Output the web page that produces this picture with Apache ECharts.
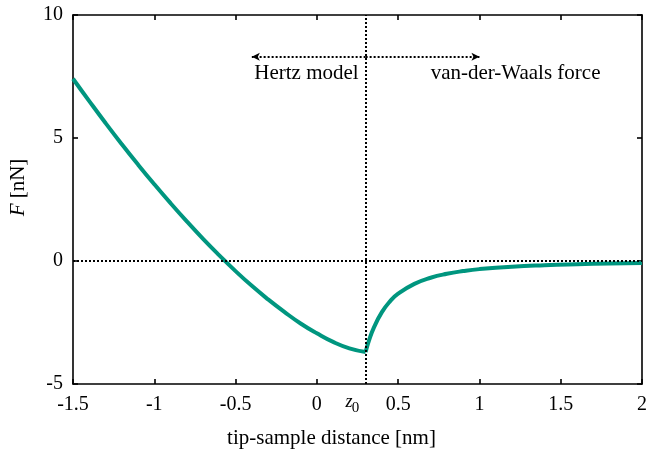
<!DOCTYPE html>
<html>
<head>
<meta charset="utf-8">
<script src="https://cdn.jsdelivr.net/npm/echarts@6/dist/echarts.min.js"></script>
<style>html,body{margin:0;padding:0;background:#fff}#c{width:650px;height:456px}</style>
</head>
<body>
<div id="c"></div>
<script>
// x positions (nm) and force values (nN)
var hertzX = [-1.5, -1.4, -1.3, -1.2, -1.1, -1.0, -0.9, -0.8, -0.7, -0.6, -0.5, -0.4, -0.3, -0.2, -0.1, 0.0, 0.1, 0.2, 0.3];
var hertzF = [7.41, 6.50, 5.61, 4.75, 3.92, 3.12, 2.35, 1.61, 0.90, 0.23, -0.41, -1.01, -1.56, -2.07, -2.54, -2.94, -3.29, -3.55, -3.70];
var vdwX = [0.3, 0.32, 0.35, 0.4, 0.45, 0.5, 0.6, 0.7, 0.8, 0.9, 1.0, 1.2, 1.4, 1.6, 1.8, 2.0];
var vdwF = [-3.70, -3.25, -2.72, -2.08, -1.64, -1.33, -0.93, -0.68, -0.52, -0.41, -0.33, -0.23, -0.17, -0.13, -0.10, -0.08];
var z0 = 0.3;
var xTicks = [-1.5, -1, -0.5, 0, 0.5, 1, 1.5, 2];
var yTicks = [-5, 0, 5, 10];
var regionLabels = ['Hertz model', 'van-der-Waals force'];

var FONT = '"Liberation Serif", "DejaVu Serif", serif';
var FS = 20;
var NFS = 21;
var lineColor = '#00967f';

function pairs(xs, ys) { return xs.map(function (x, i) { return [x, ys[i]]; }); }

var chart = echarts.init(document.getElementById('c'), null, {renderer: 'canvas'});

var axisCommon = {
  type: 'value',
  axisLine: {show: true, onZero: false, lineStyle: {color: '#000', width: 1.6}},
  axisTick: {show: true, inside: true, length: 5, lineStyle: {color: '#000', width: 1.6}},
  splitLine: {show: false}
};

var arrowY = 8.3;
var option = {
  animation: false,
  backgroundColor: '#fff',
  grid: {left: 71, right: 7, top: 15, bottom: 72, containLabel: false},
  xAxis: [
    Object.assign({}, axisCommon, {
      min: xTicks[0], max: xTicks[xTicks.length - 1], interval: 0.5, position: 'bottom',
      axisLabel: {show: true, margin: 11, color: '#000', fontFamily: FONT, fontSize: FS},
      name: 'tip-sample distance [nm]', nameLocation: 'middle', nameGap: 44,
      nameTextStyle: {color: '#000', fontFamily: FONT, fontSize: NFS, padding: [0, 52, 0, 0]}
    }),
    Object.assign({}, axisCommon, {
      min: xTicks[0], max: xTicks[xTicks.length - 1], interval: 0.5, position: 'top',
      axisLabel: {show: false}
    })
  ],
  yAxis: [
    Object.assign({}, axisCommon, {
      min: yTicks[0], max: yTicks[yTicks.length - 1], interval: 5, position: 'left',
      axisLabel: {show: true, margin: 10, color: '#000', fontFamily: FONT, fontSize: FS},
      name: '{i|F} [nN]', nameLocation: 'middle', nameGap: 44, nameRotate: 90,
      nameTextStyle: {color: '#000', fontFamily: FONT, fontSize: NFS, padding: [0, 0, 0, 24],
        rich: {i: {fontStyle: 'italic', fontFamily: FONT, fontSize: NFS, color: '#000'}}}
    }),
    Object.assign({}, axisCommon, {
      min: yTicks[0], max: yTicks[yTicks.length - 1], interval: 5, position: 'right',
      axisLabel: {show: false}
    })
  ],
  series: [
    {
      type: 'line', xAxisIndex: 0, yAxisIndex: 0,
      data: pairs(hertzX, hertzF), smooth: true, showSymbol: false, symbol: 'none',
      lineStyle: {color: lineColor, width: 4}, z: 3,
      markLine: {
        silent: true, symbol: 'none', animation: false,
        label: {show: false},
        lineStyle: {color: '#000', type: [2, 2], width: 2},
        data: [
          {xAxis: z0},
          {yAxis: 0},
          [{coord: [z0, arrowY], symbol: 'none'}, {coord: [-0.4, arrowY], symbol: 'arrow', symbolSize: [6, 8]}],
          [{coord: [z0, arrowY], symbol: 'none'}, {coord: [1.0, arrowY], symbol: 'arrow', symbolSize: [6, 8]}]
        ]
      }
    },
    {
      type: 'line', xAxisIndex: 0, yAxisIndex: 0,
      data: pairs(vdwX, vdwF), smooth: true, showSymbol: false, symbol: 'none',
      lineStyle: {color: lineColor, width: 4}, z: 3
    }
  ]
};
chart.setOption(option);

var pz = chart.convertToPixel({xAxisIndex: 0, yAxisIndex: 0}, [z0, -5]);
var pa = chart.convertToPixel({xAxisIndex: 0, yAxisIndex: 0}, [z0, arrowY]);
chart.setOption({
  graphic: [
    {type: 'text', x: pa[0] - 7, y: pa[1] + 17,
      style: {text: regionLabels[0], align: 'right', verticalAlign: 'middle', fill: '#000', font: NFS + 'px ' + FONT}},
    {type: 'text', x: pa[0] + 65, y: pa[1] + 17,
      style: {text: regionLabels[1], align: 'left', verticalAlign: 'middle', fill: '#000', font: NFS + 'px ' + FONT}},
    {type: 'text', x: pz[0] - 13, y: pz[1] + 27,
      style: {text: 'z', align: 'right', verticalAlign: 'bottom', fill: '#000', font: 'italic 18px ' + FONT}},
    {type: 'text', x: pz[0] - 14, y: pz[1] + 17,
      style: {text: '0', align: 'left', verticalAlign: 'top', fill: '#000', font: '15px ' + FONT}}
  ]
});
</script>
</body>
</html>
